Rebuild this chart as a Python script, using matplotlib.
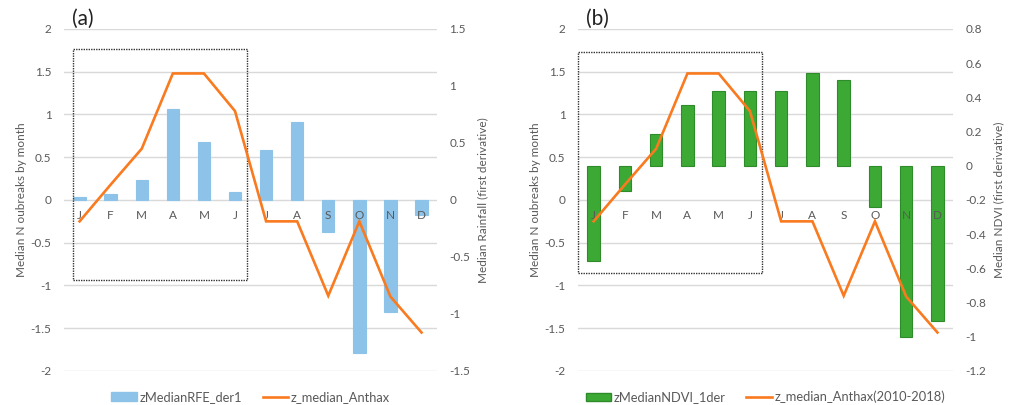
import matplotlib
matplotlib.use("Agg")
import matplotlib.pyplot as plt
import numpy as np
from matplotlib.patches import Rectangle, Patch
from matplotlib.lines import Line2D
from matplotlib.ticker import FuncFormatter

plt.rcParams['font.family'] = ['Lato', 'DejaVu Sans']
plt.rcParams['axes.unicode_minus'] = False

months = ['J', 'F', 'M', 'A', 'M', 'J', 'J', 'A', 'S', 'O', 'N', 'D']
outbreaks = [-0.25, 0.18, 0.60, 1.48, 1.48, 1.04, -0.25, -0.25, -1.12, -0.25, -1.13, -1.55]
rfe_der1 = [0.025, 0.053, 0.175, 0.80, 0.505, 0.067, 0.44, 0.68, -0.28, -1.345, -0.98, -0.135]
ndvi_1der = [-0.555, -0.15, 0.185, 0.355, 0.435, 0.435, 0.44, 0.54, 0.50, -0.24, -1.0, -0.905]

left_ticks = [-2, -1.5, -1, -0.5, 0, 0.5, 1, 1.5, 2]
right_ticks_a = [-1.5, -1, -0.5, 0, 0.5, 1, 1.5]
right_ticks_b = [-1.2, -1, -0.8, -0.6, -0.4, -0.2, 0, 0.2, 0.4, 0.6, 0.8]

GRAY = '#595959'
GRID = '#D9D9D9'
BLUE = '#8DC3E8'
GREEN = '#3DA935'
GREEN_EDGE = '#2E8B2A'
ORANGE = '#F97A1F'
FS = 8.5
LFS = 8.5

fmt = FuncFormatter(lambda v, p: f"{v:g}")

fig = plt.figure(figsize=(10.15, 4.05), dpi=100)


def panel(pos, bars, bar_color, bar_edge, right_lim, right_ticks, right_label,
          bar_label, line_label, tag, box):
    x = np.arange(len(months))
    # bottom layer: gridlines + left axis
    axg = fig.add_axes(pos)
    axg.set_xlim(-0.5, len(months) - 0.5)
    axg.set_ylim(-2, 2)
    axg.set_yticks(left_ticks)
    axg.yaxis.set_major_formatter(fmt)
    axg.grid(axis='y', color=GRID, linewidth=1.0)
    axg.set_axisbelow(True)
    axg.tick_params(axis='y', length=0, labelsize=FS, labelcolor=GRAY, pad=9)
    axg.tick_params(axis='x', length=0, labelbottom=False)
    for s in axg.spines.values():
        s.set_visible(False)
    axg.set_ylabel('Median N oubreaks by month', fontsize=LFS, color=GRAY, labelpad=3)

    # bars on right axis
    axb = axg.twinx()
    axb.set_ylim(*right_lim)
    axb.set_yticks(right_ticks)
    axb.yaxis.set_major_formatter(fmt)
    axb.tick_params(axis='y', length=0, labelsize=FS, labelcolor=GRAY, pad=9)
    for s in axb.spines.values():
        s.set_visible(False)
    axb.bar(x, bars, width=0.4, color=bar_color,
            edgecolor=bar_edge if bar_edge else bar_color, linewidth=0.8)
    axb.set_ylabel(right_label, fontsize=LFS, color=GRAY, labelpad=5)

    # top layer: line + month labels
    axl = fig.add_axes(pos, sharex=axg)
    axl.set_ylim(-2, 2)
    axl.patch.set_visible(False)
    axl.set_yticks([])
    for s in axl.spines.values():
        s.set_visible(False)
    axl.spines['bottom'].set_position(('data', 0))
    axl.set_xticks(x)
    axl.set_xticklabels(months)
    axl.tick_params(axis='x', length=0, labelsize=FS, labelcolor=GRAY, pad=7)
    axl.plot(x, outbreaks, color=ORANGE, linewidth=1.9, solid_joinstyle='miter')
    axl.add_patch(Rectangle((box[0], box[1]), box[2] - box[0], box[3] - box[1],
                            fill=False, linestyle=(0, (1, 0.8)), linewidth=1.0,
                            edgecolor='#333333', clip_on=False))
    axl.text(0.02, 1.0, tag, transform=axl.transAxes, fontsize=15, color='#222222',
             ha='left', va='bottom')

    handles = [Patch(facecolor=bar_color, edgecolor=bar_edge if bar_edge else bar_color),
               Line2D([0], [0], color=ORANGE, linewidth=1.9)]
    axl.legend(handles, [bar_label, line_label], loc='center', ncol=2,
               bbox_to_anchor=(0.5, -0.076), frameon=False, fontsize=9.3,
               labelcolor=GRAY, handlelength=2.0, handleheight=0.6,
               columnspacing=1.6, handletextpad=0.2)


panel([0.0631, 0.0840, 0.3675, 0.8444], rfe_der1, BLUE, None, (-1.5, 1.5),
      right_ticks_a, 'Median Rainfall (first derivative)',
      'zMedianRFE_der1', 'z_median_Anthax', '(a)', (-0.21, -0.94, 5.39, 1.77))

panel([0.5695, 0.0840, 0.3695, 0.8444], ndvi_1der, GREEN, GREEN_EDGE, (-1.2, 0.8),
      right_ticks_b, 'Median NDVI (first derivative)',
      'zMedianNDVI_1der', 'z_median_Anthax(2010-2018)', '(b)', (-0.5, -0.85, 5.39, 1.73))

fig.savefig('out.png', dpi=100)
